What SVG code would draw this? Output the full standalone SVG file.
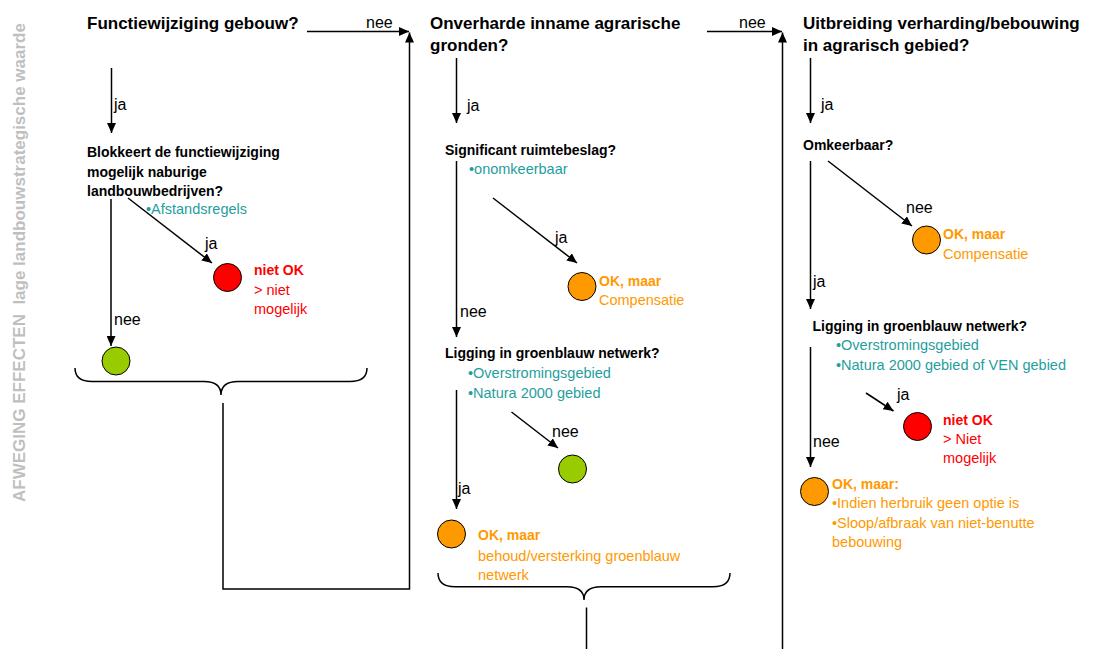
<svg xmlns="http://www.w3.org/2000/svg" width="1100" height="649" viewBox="0 0 1100 649">
  <defs>
    <marker id="arrow" markerUnits="userSpaceOnUse" markerWidth="11" markerHeight="9" refX="10" refY="4.5" orient="auto">
      <path d="M0,0 L10,4.5 L0,9 z" fill="#000"/>
    </marker>
    <style>
      text { font-family: "Liberation Sans", Arial, sans-serif; }
      .side { font-size: 17px; font-weight: bold; fill: #bfbfbf; }
      .h { font-size: 17px; font-weight: bold; fill: #000; }
      .q { font-size: 14px; font-weight: bold; fill: #000; }
      .lbl { font-size: 16px; fill: #000; }
      .teal { font-size: 14.5px; fill: #1f9e9e; }
      .ob { font-size: 14px; font-weight: bold; fill: #ff9900; }
      .o { font-size: 14.5px; fill: #ff9900; }
      .rb { font-size: 14px; font-weight: bold; fill: #ff0000; }
      .r { font-size: 14.5px; fill: #ff0000; }
      .line { stroke: #000; stroke-width: 1.5; fill: none; }
      .arr { stroke: #000; stroke-width: 1.5; fill: none; marker-end: url(#arrow); }
      .dot { stroke: #000; stroke-width: 1; }
      .green { fill: #99cc00; }
      .red { fill: #ff0000; }
      .orange { fill: #ff9900; }
    </style>
  </defs>
  <rect width="1100" height="649" fill="#fff"/>

  <!-- side caption -->
  <text class="side" transform="translate(25,502) rotate(-90)" xml:space="preserve">AFWEGING EFFECTEN  lage landbouwstrategische waarde</text>

  <!-- connectors -->
  <g id="connectors">
    <!-- column 1 -->
    <line class="arr" x1="307" y1="31.5" x2="409" y2="31.5"/>
    <line class="arr" x1="111.5" y1="68" x2="111.5" y2="133"/>
    <line class="arr" x1="128" y1="198" x2="212" y2="263"/>
    <line class="arr" x1="111" y1="199" x2="111" y2="346"/>
    <path class="line" d="M75,368 Q75,381.5 92,381.5 L204,381.5 Q221,381.5 221,395 Q221,381.5 238,381.5 L350,381.5 Q367,381.5 367,368"/>
    <path class="arr" d="M223,403 L223,589 L409.5,589 L409.5,32.5"/>
    <!-- column 2 -->
    <line class="arr" x1="707" y1="31.5" x2="782" y2="31.5"/>
    <line class="arr" x1="456.5" y1="58" x2="456.5" y2="123"/>
    <line class="arr" x1="493" y1="198" x2="577" y2="263"/>
    <line class="arr" x1="456.5" y1="161" x2="456.5" y2="337"/>
    <line class="arr" x1="511.5" y1="412" x2="558" y2="448"/>
    <line class="arr" x1="456.5" y1="390" x2="456.5" y2="509"/>
    <path class="line" d="M438,573 Q438,586.7 455,586.7 L567,586.7 Q584,586.7 584,600 Q584,586.7 601,586.7 L713,586.7 Q730,586.7 730,573"/>
    <line class="line" x1="586.5" y1="607.5" x2="586.5" y2="649"/>
    <line class="arr" x1="782.5" y1="649" x2="782.5" y2="32.5"/>
    <!-- column 3 -->
    <line class="arr" x1="810.5" y1="58" x2="810.5" y2="123"/>
    <line class="arr" x1="828" y1="161" x2="912" y2="226"/>
    <line class="arr" x1="810.5" y1="161" x2="810.5" y2="309"/>
    <line class="arr" x1="866" y1="393" x2="893.5" y2="411"/>
    <line class="arr" x1="810.5" y1="347" x2="810.5" y2="467"/>
  </g>

  <!-- connector labels -->
  <g id="labels">
    <text class="lbl" x="366" y="28">nee</text>
    <text class="lbl" x="114" y="110">ja</text>
    <text class="lbl" x="205" y="249">ja</text>
    <text class="lbl" x="114" y="325">nee</text>
    <text class="lbl" x="739" y="28">nee</text>
    <text class="lbl" x="467" y="111">ja</text>
    <text class="lbl" x="555" y="243">ja</text>
    <text class="lbl" x="460" y="317">nee</text>
    <text class="lbl" x="552" y="437">nee</text>
    <text class="lbl" x="458" y="494">ja</text>
    <text class="lbl" x="821" y="110">ja</text>
    <text class="lbl" x="906" y="213">nee</text>
    <text class="lbl" x="813" y="287">ja</text>
    <text class="lbl" x="897" y="400">ja</text>
    <text class="lbl" x="813" y="447">nee</text>
  </g>

  <!-- column 1: change of function -->
  <g id="q-functiewijziging">
    <text class="h" x="87" y="29">Functiewijziging gebouw?</text>
  </g>
  <g id="q-blokkeert">
    <text class="q" x="87" y="157">Blokkeert de functiewijziging</text>
    <text class="q" x="87" y="177">mogelijk naburige</text>
    <text class="q" x="87" y="196">landbouwbedrijven?</text>
    <text class="teal" x="146" y="214">•Afstandsregels</text>
  </g>
  <g id="r-niet-ok-1">
    <circle class="dot red" cx="227.5" cy="277.5" r="14"/>
    <text class="rb" x="254" y="275">niet OK</text>
    <text class="r" x="254" y="295">&gt; niet</text>
    <text class="r" x="254" y="314">mogelijk</text>
  </g>
  <g id="r-ok-1">
    <circle class="dot green" cx="116" cy="361" r="14"/>
  </g>

  <!-- column 2: unpaved use of farmland -->
  <g id="q-onverharde">
    <text class="h" x="430" y="29">Onverharde inname agrarische</text>
    <text class="h" x="430" y="51">gronden?</text>
  </g>
  <g id="q-ruimtebeslag">
    <text class="q" x="445" y="155">Significant ruimtebeslag?</text>
    <text class="teal" x="469" y="174">•onomkeerbaar</text>
  </g>
  <g id="r-ok-maar-2a">
    <circle class="dot orange" cx="582" cy="286.5" r="14"/>
    <text class="ob" x="599" y="286">OK, maar</text>
    <text class="o" x="599" y="305">Compensatie</text>
  </g>
  <g id="q-groenblauw-2">
    <text class="q" x="445" y="358">Ligging in groenblauw netwerk?</text>
    <text class="teal" x="468" y="378">•Overstromingsgebied</text>
    <text class="teal" x="468" y="398">•Natura 2000 gebied</text>
  </g>
  <g id="r-ok-2">
    <circle class="dot green" cx="572.5" cy="469" r="14"/>
  </g>
  <g id="r-ok-maar-2b">
    <circle class="dot orange" cx="451.5" cy="534" r="14"/>
    <text class="ob" x="478" y="540">OK, maar</text>
    <text class="o" x="478" y="561">behoud/versterking groenblauw</text>
    <text class="o" x="478" y="580">netwerk</text>
  </g>

  <!-- column 3: more paving/buildings -->
  <g id="q-uitbreiding">
    <text class="h" x="803" y="29">Uitbreiding verharding/bebouwing</text>
    <text class="h" x="803" y="51">in agrarisch gebied?</text>
  </g>
  <g id="q-omkeerbaar">
    <text class="q" x="803" y="150">Omkeerbaar?</text>
  </g>
  <g id="r-ok-maar-3a">
    <circle class="dot orange" cx="926.5" cy="240" r="14"/>
    <text class="ob" x="943" y="239">OK, maar</text>
    <text class="o" x="943" y="259">Compensatie</text>
  </g>
  <g id="q-groenblauw-3">
    <text class="q" x="812.5" y="331">Ligging in groenblauw netwerk?</text>
    <text class="teal" x="836" y="350">•Overstromingsgebied</text>
    <text class="teal" x="836" y="370">•Natura 2000 gebied of VEN gebied</text>
  </g>
  <g id="r-niet-ok-3">
    <circle class="dot red" cx="917.5" cy="426.5" r="14"/>
    <text class="rb" x="943" y="425">niet OK</text>
    <text class="r" x="943" y="444">&gt; Niet</text>
    <text class="r" x="943" y="463">mogelijk</text>
  </g>
  <g id="r-ok-maar-3b">
    <circle class="dot orange" cx="814.5" cy="491.5" r="14"/>
    <text class="ob" x="832" y="489">OK, maar:</text>
    <text class="o" x="832" y="508">•Indien herbruik geen optie is</text>
    <text class="o" x="832" y="528">•Sloop/afbraak van niet-benutte</text>
    <text class="o" x="832" y="547">bebouwing</text>
  </g>
</svg>
